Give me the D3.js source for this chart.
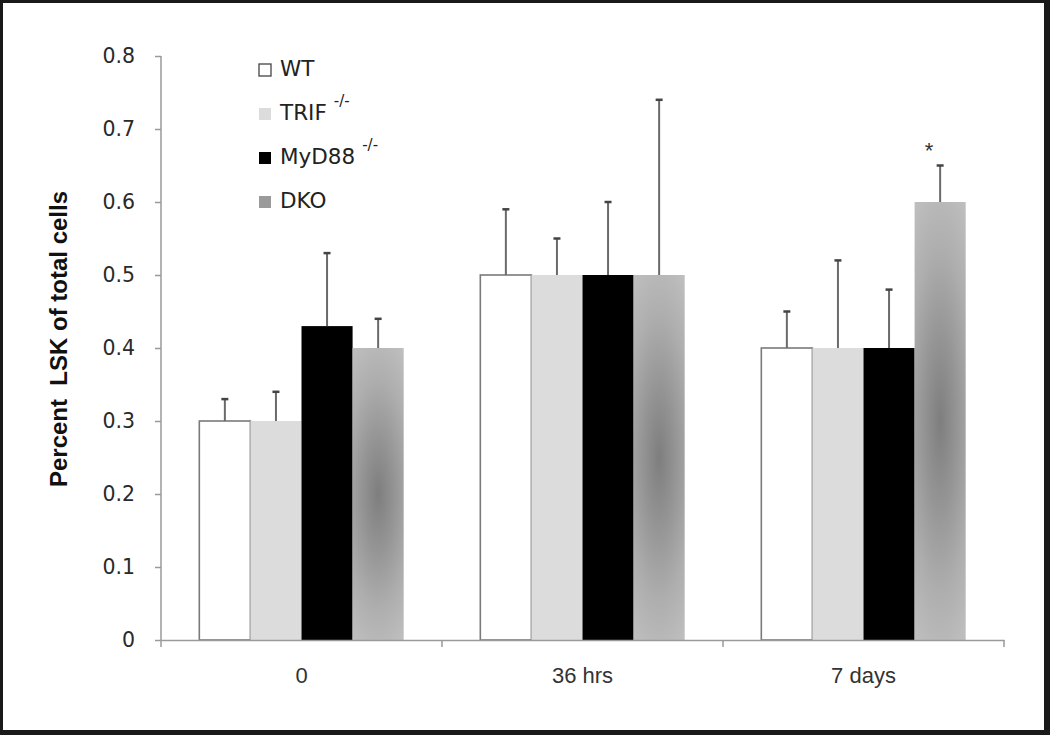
<!DOCTYPE html>
<html><head><meta charset="utf-8">
<script src="https://cdn.jsdelivr.net/npm/d3@7"></script>
<style>html,body{margin:0;padding:0;background:#fff;}svg{display:block;}</style>
</head><body>
<script>
const categories = ["0", "36 hrs", "7 days"];
const seriesNames = ["WT", "TRIF", "MyD88", "DKO"];
const seriesSup = ["", "-/-", "-/-", ""];
const WT = [0.30, 0.50, 0.40];
const TRIF = [0.30, 0.50, 0.40];
const MyD88 = [0.43, 0.50, 0.40];
const DKO = [0.40, 0.50, 0.60];
const WT_err = [0.03, 0.09, 0.05];
const TRIF_err = [0.04, 0.05, 0.12];
const MyD88_err = [0.10, 0.10, 0.08];
const DKO_err = [0.04, 0.24, 0.05];
const yTicks = [0, 0.1, 0.2, 0.3, 0.4, 0.5, 0.6, 0.7, 0.8];
const significance = [{cat: "7 days", series: "DKO", label: "*"}];
const yTitle = "Percent  LSK of total cells";

const values = [WT, TRIF, MyD88, DKO];
const errs = [WT_err, TRIF_err, MyD88_err, DKO_err];

const W = 1050, H = 735;
const svg = d3.select("body").append("svg").attr("width", W).attr("height", H);

const defs = svg.append("defs");
const grad = defs.append("radialGradient").attr("id", "dkoGrad")
  .attr("cx", 0.5).attr("cy", 0.5).attr("r", 0.5)
  .attr("gradientTransform", "translate(0.5,0.5) scale(2.2,1.3) translate(-0.5,-0.5)");
[[0, "#7e7e7e"], [0.3, "#959595"], [0.6, "#aeaeae"], [0.85, "#bdbdbd"], [1, "#c4c4c4"]]
  .forEach(([o, c]) => grad.append("stop").attr("offset", o).attr("stop-color", c));

const fills = ["#ffffff", "#dcdcdc", "#000000", "url(#dkoGrad)"];
const legendFills = ["#ffffff", "#dcdcdc", "#000000", "#9a9a9a"];

// frame
svg.append("rect").attr("x", 1.5).attr("y", 1.5).attr("width", W - 5).attr("height", H - 4.5)
  .attr("fill", "none").attr("stroke", "#1a1a1a").attr("stroke-width", 3);
svg.append("rect").attr("x", 1044).attr("y", 0).attr("width", 6).attr("height", H).attr("fill", "#1a1a1a");
svg.append("rect").attr("x", 0).attr("y", 730).attr("width", W).attr("height", 5).attr("fill", "#1a1a1a");

const x0 = d3.scaleBand().domain(categories).range([161, 1004]).paddingInner(0).paddingOuter(0);
const x1 = d3.scaleBand().domain(seriesNames).range([0, x0.bandwidth()]).paddingOuter(0.75).paddingInner(0);
const y = d3.scaleLinear().domain([0, 0.8]).range([640, 56]);

// y axis
const yAxis = d3.axisLeft(y).tickValues(yTicks).tickSize(6).tickPadding(20)
  .tickFormat(d => d === 0 ? "0" : d3.format(".1f")(d));
const gy = svg.append("g").attr("transform", "translate(161,0)").call(yAxis);
gy.select(".domain").attr("stroke", "#9a9a9a").attr("stroke-width", 1.5).attr("d", "M0,56V640");
gy.selectAll(".tick line").attr("stroke", "#9a9a9a").attr("stroke-width", 1.5);
gy.selectAll(".tick text").attr("font-family", "DejaVu Sans").attr("font-size", 20.5).attr("fill", "#2a2a2a");

// bars
categories.forEach((cat, ci) => {
  seriesNames.forEach((s, si) => {
    const v = values[si][ci];
    const bx = x0(cat) + x1(s);
    const bw = x1.bandwidth();
    svg.append("rect").attr("x", bx).attr("y", y(v)).attr("width", bw).attr("height", y(0) - y(v))
      .attr("fill", fills[si])
      .attr("stroke", si === 0 ? "#7a7a7a" : "none").attr("stroke-width", si === 0 ? 1.6 : 0);
  });
});

// x axis
const xAxis = d3.axisBottom(x0).tickSize(0).tickPadding(27);
const gx = svg.append("g").attr("transform", "translate(0,640)").call(xAxis);
gx.select(".domain").attr("stroke", "#9a9a9a").attr("stroke-width", 1.5);
gx.selectAll(".tick text").attr("font-family", "Liberation Sans").attr("font-size", 22).attr("fill", "#333");
const boundaries = categories.map(c => x0(c)).concat([x0(categories[categories.length - 1]) + x0.bandwidth()]);
gx.selectAll(".bnd").data(boundaries).enter().append("line")
  .attr("x1", d => d).attr("x2", d => d).attr("y1", 0).attr("y2", 7)
  .attr("stroke", "#9a9a9a").attr("stroke-width", 1.5);

// error bars
categories.forEach((cat, ci) => {
  seriesNames.forEach((s, si) => {
    const v = values[si][ci], e = errs[si][ci];
    const cx = x0(cat) + x1(s) + x1.bandwidth() / 2;
    svg.append("line").attr("x1", cx).attr("x2", cx).attr("y1", y(v)).attr("y2", y(v + e))
      .attr("stroke", "#6a6a6a").attr("stroke-width", 2);
    svg.append("line").attr("x1", cx - 3.5).attr("x2", cx + 3.5).attr("y1", y(v + e)).attr("y2", y(v + e))
      .attr("stroke", "#444").attr("stroke-width", 2.5);
  });
});

// significance
significance.forEach(sg => {
  const ci = categories.indexOf(sg.cat), si = seriesNames.indexOf(sg.series);
  const cx = x0(sg.cat) + x1(sg.series) + x1.bandwidth() / 2;
  const top = values[si][ci] + errs[si][ci];
  svg.append("text").attr("x", cx - 11).attr("y", y(top) - 8)
    .attr("text-anchor", "middle").attr("font-family", "Liberation Sans").attr("font-size", 22)
    .attr("fill", "#333").text(sg.label);
});

// y title
svg.append("text").attr("transform", "translate(67,339) rotate(-90)")
  .attr("text-anchor", "middle").attr("font-family", "Liberation Sans").attr("font-weight", "bold")
  .attr("font-size", 24).attr("fill", "#111").style("white-space", "pre").text(yTitle);

// legend
const lg = svg.append("g");
seriesNames.forEach((s, i) => {
  const ly = 64 + i * 44;
  lg.append("rect").attr("x", 259).attr("y", ly).attr("width", 12).attr("height", 12)
    .attr("fill", legendFills[i]).attr("stroke", i === 0 ? "#444" : "none").attr("stroke-width", 1.3);
  const t = lg.append("text").attr("x", 280).attr("y", ly + 12)
    .attr("font-family", "DejaVu Sans").attr("font-size", 21.5).attr("fill", "#222");
  t.append("tspan").text(s);
  if (seriesSup[i]) {
    t.append("tspan").attr("dx", 7).attr("dy", -14).attr("font-size", 15).text(seriesSup[i]);
  }
});
</script>
</body></html>
